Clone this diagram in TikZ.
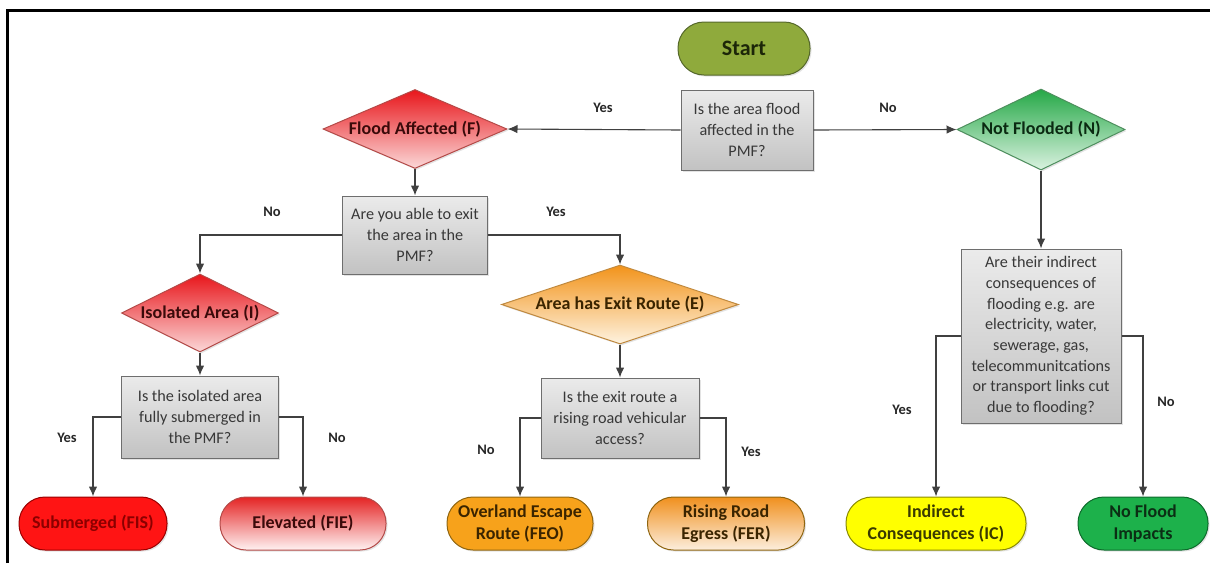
\documentclass[tikz,border=0pt]{standalone}
\usepackage{fontspec}
\setmainfont{Carlito}
\usetikzlibrary{shapes.geometric,arrows.meta,shadows}

\definecolor{qtop}{HTML}{EBEBEB}
\definecolor{qbot}{HTML}{C2C2C2}
\definecolor{qborder}{HTML}{6E6E6E}
\definecolor{qtext}{HTML}{383838}
\definecolor{conncol}{HTML}{404040}
\definecolor{labtext}{HTML}{262626}
\definecolor{startfill}{HTML}{8FAA3C}
\definecolor{startdraw}{HTML}{55682A}
\definecolor{starttext}{HTML}{1C2608}
\definecolor{redtop}{HTML}{E8161B}
\definecolor{redbot}{HTML}{FBD8D8}
\definecolor{reddraw}{HTML}{B44A48}
\definecolor{redtext}{HTML}{3A0A0A}
\definecolor{grtop}{HTML}{25A847}
\definecolor{grbot}{HTML}{DAF2E0}
\definecolor{grdraw}{HTML}{4E8F5E}
\definecolor{grtext}{HTML}{0B2A12}
\definecolor{ortop}{HTML}{F2931A}
\definecolor{orbot}{HTML}{FEF3E0}
\definecolor{ordraw}{HTML}{C08A40}
\definecolor{ortext}{HTML}{3A2400}
\definecolor{subfill}{HTML}{FF1414}
\definecolor{subdraw}{HTML}{9A0000}
\definecolor{subtext}{HTML}{8B0000}
\definecolor{elevtop}{HTML}{E42424}
\definecolor{elevbot}{HTML}{FFF2F2}
\definecolor{ovlfill}{HTML}{F7A21B}
\definecolor{ovldraw}{HTML}{8F6510}
\definecolor{risetop}{HTML}{F0901E}
\definecolor{risebot}{HTML}{FCEEDD}
\definecolor{icfill}{HTML}{FFFF00}
\definecolor{icdraw}{HTML}{8A8A00}
\definecolor{ictext}{HTML}{3A3A00}
\definecolor{nfifill}{HTML}{1DB14B}
\definecolor{nfidraw}{HTML}{0D6B2B}
\definecolor{nfitext}{HTML}{0B2E14}

\newcommand{\qfont}{\fontsize{16.2}{20.7}\selectfont}
\newcommand{\lfont}{\fontsize{18}{21.5}\selectfont\bfseries}
\newcommand{\yfont}{\fontsize{14.5}{17}\selectfont\bfseries}

\begin{document}
\begin{tikzpicture}[x=1pt,y=-1pt,
  base/.style={inner sep=0pt, align=center, line width=1pt,
    drop shadow={shadow xshift=1.5pt, shadow yshift=-1.5pt, opacity=0.22}},
  qbox/.style={base, rectangle, draw=qborder, top color=qtop, bottom color=qbot, text=qtext, font=\qfont},
  dia/.style={base, diamond, font=\lfont},
  pill/.style={base, rectangle, rounded corners=26pt, minimum height=53pt, font=\lfont},
  lab/.style={font=\yfont, text=labtext, inner sep=0pt},
  conn/.style={draw=conncol, line width=1.1pt, -{Latex[length=10pt,width=8.5pt]}}
]
\useasboundingbox (0,0) rectangle (1210,563);
\draw[line width=3.5pt] (7.5,563) -- (7.5,10.5) -- (1210,10.5);

% nodes
\node[pill, fill=startfill, draw=startdraw, text=starttext, minimum width=132pt,
  font=\fontsize{22}{26}\selectfont\bfseries] (start) at (744,48.5) {Start};
\node[qbox, minimum width=132pt, minimum height=80pt] (q1) at (747,130)
  {Is the area flood\\affected in the\\PMF?};
\node[dia, top color=redtop, bottom color=redbot, draw=reddraw, text=redtext,
  minimum width=184pt, minimum height=79pt, aspect=2.33] (fa) at (415,129) {Flood Affected (F)};
\node[dia, top color=grtop, bottom color=grbot, draw=grdraw, text=grtext,
  minimum width=168pt, minimum height=81pt, aspect=2.07] (nf) at (1041,129.5) {Not Flooded (N)};
\node[qbox, minimum width=145pt, minimum height=78pt] (q2) at (415,235)
  {Are you able to exit\\the area in the\\PMF?};
\node[dia, top color=redtop, bottom color=redbot, draw=reddraw, text=redtext,
  minimum width=157pt, minimum height=78pt, aspect=2.0] (iso) at (200,313) {Isolated Area (I)};
\node[dia, top color=ortop, bottom color=orbot, draw=ordraw, text=ortext,
  minimum width=237pt, minimum height=79pt, aspect=3.0] (ext) at (620,304.5) {Area has Exit Route (E)};
\node[qbox, minimum width=157pt, minimum height=82pt] (q3) at (200,417)
  {Is the isolated area\\fully submerged in\\the PMF?};
\node[qbox, minimum width=158pt, minimum height=80pt] (q4) at (620,418)
  {Is the exit route a\\rising road vehicular\\access?};
\node[qbox, minimum width=160pt, minimum height=174pt] (ind) at (1041,336)
  {Are their indirect\\consequences of\\flooding e.g. are\\electricity, water,\\sewerage, gas,\\telecommunitcations\\or transport links cut\\due to flooding?};

\node[pill, fill=subfill, draw=subdraw, text=subtext, minimum width=148pt] (sub) at (93,523.5) {Submerged (FIS)};
\node[pill, top color=elevtop, bottom color=elevbot, draw=reddraw, text=redtext, minimum width=166pt] (elev) at (303,523.5) {Elevated (FIE)};
\node[pill, fill=ovlfill, draw=ovldraw, text=ortext, minimum width=146pt] (ovl) at (520,523.5) {Overland Escape\\Route (FEO)};
\node[pill, top color=risetop, bottom color=risebot, draw=ovldraw, text=ortext, minimum width=157pt] (rise) at (726,523.5) {Rising Road\\Egress (FER)};
\node[pill, fill=icfill, draw=icdraw, text=ictext, minimum width=180pt] (ic) at (936,523.5) {Indirect\\Consequences (IC)};
\node[pill, fill=nfifill, draw=nfidraw, text=nfitext, minimum width=130pt] (nfi) at (1143,523.5) {No Flood\\Impacts};

% connectors
\draw[conn] (q1.west) -- (fa.east);
\draw[conn] (q1.east) -- (nf.west);
\draw[conn] (fa.south) -- (q2.north);
\draw[conn] (q2.west) -| (iso.north);
\draw[conn] (q2.east) -| (ext.north);
\draw[conn] (iso.south) -- (q3.north);
\draw[conn] (ext.south) -- (q4.north);
\draw[conn] (q3.west) -| (sub.north);
\draw[conn] (q3.east) -| (elev.north);
\draw[conn] (q4.west) -| (ovl.north);
\draw[conn] (q4.east) -| (rise.north);
\draw[conn] (nf.south) -- (ind.north);
\draw[conn] (ind.west) -| (ic.north);
\draw[conn] (ind.east) -| (nfi.north);

% labels
\node[lab] (l1) at (603,108) {Yes};
\node[lab] (l2) at (888,108) {No};
\node[lab] (l3) at (272,212) {No};
\node[lab] (l4) at (556,212) {Yes};
\node[lab] (l5) at (67,438) {Yes};
\node[lab] (l6) at (337,438) {No};
\node[lab] (l7) at (486,450) {No};
\node[lab] (l8) at (751,452) {Yes};
\node[lab] (l9) at (902,410) {Yes};
\node[lab] (l10) at (1166,402) {No};
\end{tikzpicture}
\end{document}
